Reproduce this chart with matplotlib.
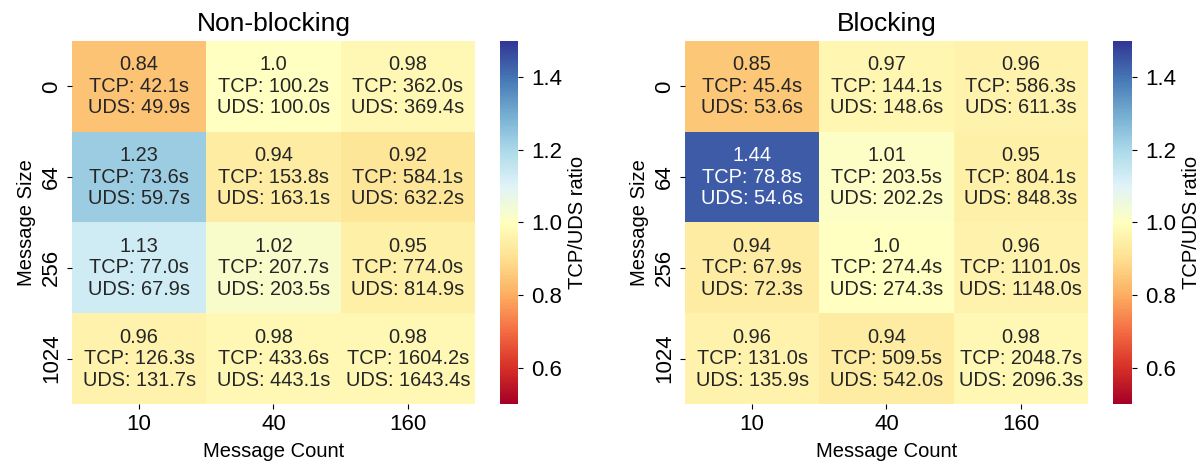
import matplotlib
matplotlib.use('Agg')
import matplotlib.pyplot as plt
import numpy as np
import seaborn as sns

plt.rcParams['font.family'] = ['Liberation Sans', 'DejaVu Sans']

msg_sizes = [0, 64, 256, 1024]
msg_counts = [10, 40, 160]

# non-blocking runs: rows = message size, cols = message count
nb_ratio = [[0.84, 1.0, 0.98],
            [1.23, 0.94, 0.92],
            [1.13, 1.02, 0.95],
            [0.96, 0.98, 0.98]]
nb_tcp = [[42.1, 100.2, 362.0],
          [73.6, 153.8, 584.1],
          [77.0, 207.7, 774.0],
          [126.3, 433.6, 1604.2]]
nb_uds = [[49.9, 100.0, 369.4],
          [59.7, 163.1, 632.2],
          [67.9, 203.5, 814.9],
          [131.7, 443.1, 1643.4]]

# blocking runs
bl_ratio = [[0.85, 0.97, 0.96],
            [1.44, 1.01, 0.95],
            [0.94, 1.0, 0.96],
            [0.96, 0.94, 0.98]]
bl_tcp = [[45.4, 144.1, 586.3],
          [78.8, 203.5, 804.1],
          [67.9, 274.4, 1101.0],
          [131.0, 509.5, 2048.7]]
bl_uds = [[53.6, 148.6, 611.3],
          [54.6, 202.2, 848.3],
          [72.3, 274.3, 1148.0],
          [135.9, 542.0, 2096.3]]


def make_labels(ratio, tcp, uds):
    labels = []
    for r, t, u in zip(ratio, tcp, uds):
        row = []
        for a, b, c in zip(r, t, u):
            row.append(f"{a}\nTCP: {b}s\nUDS: {c}s")
        labels.append(row)
    return np.array(labels)


def draw(ax, cax, ratio, tcp, uds, title):
    sns.heatmap(np.array(ratio), ax=ax, cbar_ax=cax, cmap='RdYlBu',
                vmin=0.5, vmax=1.5, annot=make_labels(ratio, tcp, uds),
                fmt='', annot_kws={'fontsize': 14.4, 'linespacing': 1.17},
                xticklabels=msg_counts, yticklabels=msg_sizes,
                cbar_kws={'ticks': [0.6, 0.8, 1.0, 1.2, 1.4]})
    ax.set_title(title, fontsize=19, pad=7)
    ax.set_xlabel('Message Count', fontsize=14.5, labelpad=5)
    ax.set_ylabel('Message Size', fontsize=14.5, labelpad=4)
    ax.tick_params(axis='both', labelsize=16)
    plt.setp(ax.get_yticklabels(), rotation=90, va='center')
    cax.tick_params(labelsize=16, pad=6)
    cax.set_ylabel('TCP/UDS ratio', fontsize=14.5, labelpad=4)


fig = plt.figure(figsize=(12.04, 4.67), dpi=100)
ax1 = fig.add_axes([0.0598, 0.135, 0.3347, 0.7773])
cb1 = fig.add_axes([0.4153, 0.135, 0.015, 0.7773])
ax2 = fig.add_axes([0.5689, 0.135, 0.3347, 0.7773])
cb2 = fig.add_axes([0.9244, 0.135, 0.0158, 0.7773])

draw(ax1, cb1, nb_ratio, nb_tcp, nb_uds, 'Non-blocking')
draw(ax2, cb2, bl_ratio, bl_tcp, bl_uds, 'Blocking')

fig.savefig('out.png', dpi=100)
